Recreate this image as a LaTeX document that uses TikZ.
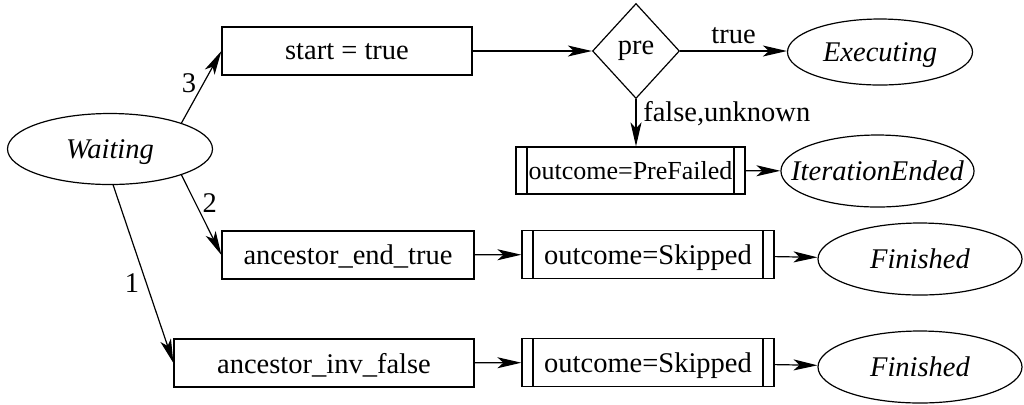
\documentclass[tikz,border=0pt]{standalone}
\usepackage{fontspec}
\setmainfont{Liberation Serif}
\usetikzlibrary{arrows.meta, positioning, shapes.geometric}

\begin{document}
\begin{tikzpicture}[x=0.5pt, y=-0.5pt, ->, >={Stealth[length=12pt, width=5.5pt, inset=3pt]},
    line width=0.6pt, font=\fontsize{14.25}{17}\selectfont]
    \tikzstyle{state} = [draw, ellipse, inner sep=0pt, text depth=0pt, minimum width=102pt, minimum height=36pt, font=\fontsize{14.25}{17}\selectfont\itshape]
    \tikzstyle{guard} = [draw, rectangle, inner sep=0pt, text depth=0pt, minimum width=126pt, minimum height=24pt]
    \tikzstyle{outcome} = [guard, path picture={
        \draw[-] ([xshift=5.5pt]path picture bounding box.north west) -- ([xshift=5.5pt]path picture bounding box.south west);
        \draw[-] ([xshift=-5.5pt]path picture bounding box.north east) -- ([xshift=-5.5pt]path picture bounding box.south east);}]
    \tikzstyle{test} = [draw, diamond, inner sep=0pt, minimum width=43.5pt, minimum height=47.5pt]
    \useasboundingbox (0,0) rectangle (1024,404);
    \node [state, minimum width=102.5pt, minimum height=35.5pt] (wait) at (110,149) {Waiting};
    \node [guard, minimum width=125pt] (start) at (347,51) {start = true};
    \node [test] (pre) at (636,51) {pre};
    \node [state, minimum width=92.5pt, minimum height=33pt] (exec) at (880,52) {Executing};
    \node [outcome, minimum width=114.5pt, minimum height=23.5pt, font=\fontsize{13}{15}\selectfont] (prefail) at (630.5,170.5) {outcome=PreFailed};
    \node [state, inner xsep=-9pt, minimum width=94.5pt] (iter) at (877.5,171) {IterationEnded};
    \node [guard] (endtrue) at (348,255) {ancestor\_end\_true};
    \node [guard, minimum width=150pt] (invfalse) at (324,363) {ancestor\_inv\_false};
    \node [outcome] (skip1) at (648,254.5) {outcome=Skipped};
    \node [outcome] (skip2) at (648,362.5) {outcome=Skipped};
    \node [state] (fin1) at (920,259) {Finished};
    \node [state] (fin2) at (920,367) {Finished};
    \draw (wait.20) -- node[left, pos=0.55] {3} (start.west);
    \draw (wait.-20) -- node[right, pos=0.35] {2} (endtrue.west);
    \draw (wait.-85) -- node[left, pos=0.55] {1} (invfalse.west);
    \draw (start) -- (pre);
    \draw (pre) -- node[above] {true} (exec.west |- pre);
    \draw (pre.south) -- node[right, pos=0.3] {false,unknown} (pre.south |- prefail.north);
    \draw (prefail) -- (iter);
    \draw (endtrue) -- (skip1);
    \draw (skip1) -- (fin1);
    \draw (invfalse) -- (skip2);
    \draw (skip2) -- (fin2);
\end{tikzpicture}
\end{document}
